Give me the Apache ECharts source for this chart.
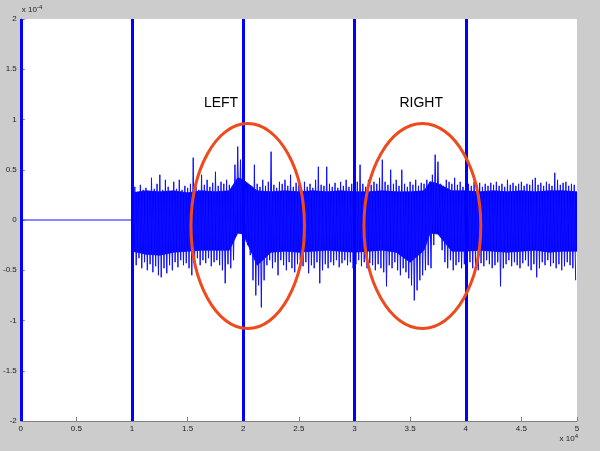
<!DOCTYPE html>
<html><head><meta charset="utf-8">
<script src="https://cdn.jsdelivr.net/npm/echarts@6/dist/echarts.min.js"></script>
<style>html,body{margin:0;padding:0;background:#cccccc}#c{width:600px;height:451px}</style>
</head><body><div id="c"></div>
<script>
// ---- data (signal in units of 1e-4, time in units of 1e4) ----
const xTickValues = [0, 0.5, 1, 1.5, 2, 2.5, 3, 3.5, 4, 4.5, 5];
const yTickValues = [-2, -1.5, -1, -0.5, 0, 0.5, 1, 1.5, 2];
const markerLines = [0, 1, 2, 3, 4];
const quietX = [0, 1];
const quietY = [0, 0];
const noiseStart = 1.0;
const binWidth = 0.025;
const upperEnv = [
 0.30,0.33,0.28,0.35,0.30,0.32,0.29,0.42,0.31,0.36,
 0.45,0.30,0.40,0.33,0.29,0.38,0.31,0.40,0.30,0.34,
 0.32,0.36,0.62,0.33,0.30,0.45,0.35,0.40,0.33,0.37,
 0.48,0.34,0.38,0.36,0.40,0.35,0.33,0.55,0.73,0.60,
 0.38,0.32,0.35,0.34,0.55,0.36,0.33,0.40,0.34,0.38,
 0.68,0.35,0.32,0.38,0.36,0.40,0.34,0.45,0.33,0.37,
 0.35,0.30,0.38,0.33,0.36,0.32,0.40,0.53,0.35,0.34,
 0.53,0.36,0.33,0.37,0.32,0.38,0.34,0.40,0.33,0.36,
 0.34,0.38,0.55,0.36,0.33,0.40,0.35,0.38,0.36,0.42,
 0.60,0.38,0.35,0.50,0.36,0.40,0.34,0.50,0.36,0.33,
 0.38,0.35,0.40,0.34,0.37,0.36,0.40,0.38,0.45,0.65,
 0.58,0.36,0.34,0.40,0.38,0.36,0.42,0.35,0.38,0.33,
 0.40,0.36,0.34,0.38,0.35,0.37,0.33,0.36,0.34,0.37,
 0.35,0.38,0.34,0.36,0.33,0.40,0.35,0.37,0.34,0.36,
 0.38,0.34,0.36,0.35,0.40,0.42,0.35,0.37,0.34,0.38,
 0.36,0.34,0.47,0.40,0.35,0.37,0.38,0.34,0.36,0.35
];
const lowerEnv = [
 -0.40,-0.45,-0.38,-0.48,-0.42,-0.50,-0.44,-0.52,-0.46,-0.55,
 -0.57,-0.48,-0.53,-0.45,-0.50,-0.42,-0.47,-0.40,-0.45,-0.43,
 -0.48,-0.55,-0.42,-0.38,-0.45,-0.40,-0.43,-0.38,-0.46,-0.42,
 -0.40,-0.45,-0.50,-0.63,-0.44,-0.48,-0.40,-0.15,-0.13,-0.14,
 -0.22,-0.25,-0.35,-0.60,-0.75,-0.65,-0.87,-0.60,-0.45,-0.40,
 -0.48,-0.42,-0.55,-0.40,-0.45,-0.50,-0.42,-0.48,-0.52,-0.44,
 -0.40,-0.46,-0.42,-0.53,-0.45,-0.48,-0.42,-0.63,-0.50,-0.44,
 -0.48,-0.42,-0.45,-0.40,-0.47,-0.43,-0.40,-0.45,-0.42,-0.48,
 -0.44,-0.40,-0.46,-0.42,-0.48,-0.43,-0.45,-0.50,-0.44,-0.48,
 -0.52,-0.66,-0.45,-0.48,-0.42,-0.50,-0.55,-0.48,-0.52,-0.58,
 -0.65,-0.80,-0.70,-0.60,-0.55,-0.50,-0.45,-0.48,-0.25,-0.13,
 -0.15,-0.30,-0.42,-0.48,-0.40,-0.50,-0.45,-0.42,-0.48,-0.44,
 -0.46,-0.42,-0.48,-0.45,-0.50,-0.43,-0.46,-0.40,-0.44,-0.48,
 -0.45,-0.42,-0.66,-0.48,-0.44,-0.40,-0.46,-0.42,-0.45,-0.48,
 -0.43,-0.40,-0.46,-0.50,-0.44,-0.57,-0.48,-0.42,-0.45,-0.40,
 -0.46,-0.43,-0.48,-0.44,-0.50,-0.46,-0.42,-0.45,-0.48,-0.60
];
// dense core of the noise band
const coreX = [1.0,1.125,1.25,1.375,1.5,1.625,1.75,1.875,1.95,2.0,2.125,2.25,2.375,2.5,2.625,2.75,2.875,3.0,
               3.125,3.25,3.375,3.5,3.625,3.68,3.75,3.875,4.0,4.125,4.25,4.375,4.5,4.625,4.75,4.875,5.0];
const coreTop = [0.27,0.29,0.28,0.29,0.27,0.29,0.28,0.29,0.42,0.40,0.29,0.28,0.29,0.28,0.29,0.28,0.29,0.28,
                 0.28,0.29,0.28,0.28,0.29,0.38,0.36,0.29,0.29,0.28,0.29,0.28,0.29,0.28,0.29,0.29,0.28];
const coreBottom = [-0.31,-0.34,-0.35,-0.32,-0.31,-0.30,-0.30,-0.30,-0.13,-0.14,-0.45,-0.32,-0.31,-0.32,-0.31,-0.30,-0.31,-0.32,
                    -0.31,-0.30,-0.32,-0.42,-0.30,-0.13,-0.14,-0.31,-0.31,-0.30,-0.31,-0.32,-0.31,-0.30,-0.32,-0.31,-0.31];
const regionNames = ['LEFT', 'RIGHT'];
const regionCenterX = [2.04, 3.61];
const regionCenterY = [-0.06, -0.06];
const regionHalfWidth = [0.51, 0.525];
const regionHalfHeight = [1.02, 1.02];
const regionLabelX = [1.80, 3.60];
const regionLabelY = [1.16, 1.16];

// ---- build series data ----
const signal = [];
for (let k = 0; k < quietX.length; k++) signal.push([quietX[k], quietY[k]]);
for (let i = 0; i < upperEnv.length; i++) {
  const x = noiseStart + binWidth * i;
  signal.push([x, upperEnv[i]]);
  signal.push([x + binWidth / 2, lowerEnv[i]]);
}
const coreUp = coreX.map((x, i) => [x, coreTop[i]]);
const coreDown = coreX.map((x, i) => [x, coreBottom[i]]);

const chart = echarts.init(document.getElementById('c'), null, {renderer: 'canvas'});
const tickFont = {fontSize: 8, color: '#222', fontFamily: 'Liberation Sans, Arial, sans-serif'};
const coreSeries = (d) => ({
  type: 'line', data: d, showSymbol: false, symbol: 'none', z: 1,
  lineStyle: {width: 0.8, color: '#0000ff'},
  areaStyle: {color: '#0000ff', opacity: 1}
});
chart.setOption({
  animation: false,
  backgroundColor: '#cccccc',
  grid: {left: 20, right: 23, top: 19, bottom: 30, show: true, backgroundColor: '#ffffff', borderWidth: 0},
  xAxis: {
    type: 'value', min: 0, max: 5, interval: 0.5,
    axisLine: {show: true, onZero: false, lineStyle: {color: '#808080', width: 1}},
    axisTick: {show: true, inside: true, length: 4, lineStyle: {color: '#808080'}},
    axisLabel: Object.assign({margin: 4}, tickFont),
    splitLine: {show: false}
  },
  yAxis: {
    type: 'value', min: -2, max: 2, interval: 0.5,
    axisLine: {show: true, onZero: false, lineStyle: {color: '#808080', width: 1}},
    axisTick: {show: true, inside: true, length: 4, lineStyle: {color: '#808080'}},
    axisLabel: Object.assign({margin: 4}, tickFont),
    splitLine: {show: false}
  },
  series: [coreSeries(coreUp), coreSeries(coreDown), {
    type: 'line',
    data: signal,
    showSymbol: false,
    symbol: 'none',
    sampling: null,
    lineStyle: {color: '#1010ff', width: 1},
    z: 2,
    markLine: {
      silent: true, symbol: 'none', animation: false,
      label: {show: false},
      lineStyle: {color: '#0000ff', width: 3, type: 'solid'},
      data: markerLines.map(v => ({xAxis: v}))
    }
  }]
});

function drawOverlays() {
  const g = [];
  for (let k = 0; k < regionNames.length; k++) {
    const c = chart.convertToPixel({gridIndex: 0}, [regionCenterX[k], regionCenterY[k]]);
    const e = chart.convertToPixel({gridIndex: 0}, [regionCenterX[k] + regionHalfWidth[k], regionCenterY[k] + regionHalfHeight[k]]);
    g.push({type: 'ellipse', z: 100, silent: true,
      shape: {cx: c[0], cy: c[1], rx: Math.abs(e[0] - c[0]), ry: Math.abs(c[1] - e[1])},
      style: {fill: null, stroke: '#ee4a1c', lineWidth: 3}});
    const t = chart.convertToPixel({gridIndex: 0}, [regionLabelX[k], regionLabelY[k]]);
    g.push({type: 'text', z: 100, silent: true, x: t[0], y: t[1],
      style: {text: regionNames[k], fill: '#000', fontSize: 14, fontFamily: 'Liberation Sans, Arial, sans-serif', align: 'center', verticalAlign: 'middle'}});
  }
  const tl = chart.convertToPixel({gridIndex: 0}, [0, 2]);
  g.push({type: 'text', x: tl[0] + 1, y: tl[1] - 3, silent: true,
    style: {text: 'x 10{s|-4}', fill: '#222', fontSize: 8, fontFamily: 'Liberation Sans, Arial, sans-serif', align: 'left', verticalAlign: 'bottom',
      rich: {s: {fontSize: 6, verticalAlign: 'top', padding: [0, 0, 6, 0], fill: '#222'}}}});
  const br = chart.convertToPixel({gridIndex: 0}, [5, -2]);
  g.push({type: 'text', x: br[0] + 1, y: br[1] + 18, silent: true,
    style: {text: 'x 10{s|4}', fill: '#222', fontSize: 8, fontFamily: 'Liberation Sans, Arial, sans-serif', align: 'right', verticalAlign: 'middle',
      rich: {s: {fontSize: 6, padding: [0, 0, 6, 0], fill: '#222'}}}});
  chart.setOption({graphic: g});
}
drawOverlays();
</script>
</body></html>
